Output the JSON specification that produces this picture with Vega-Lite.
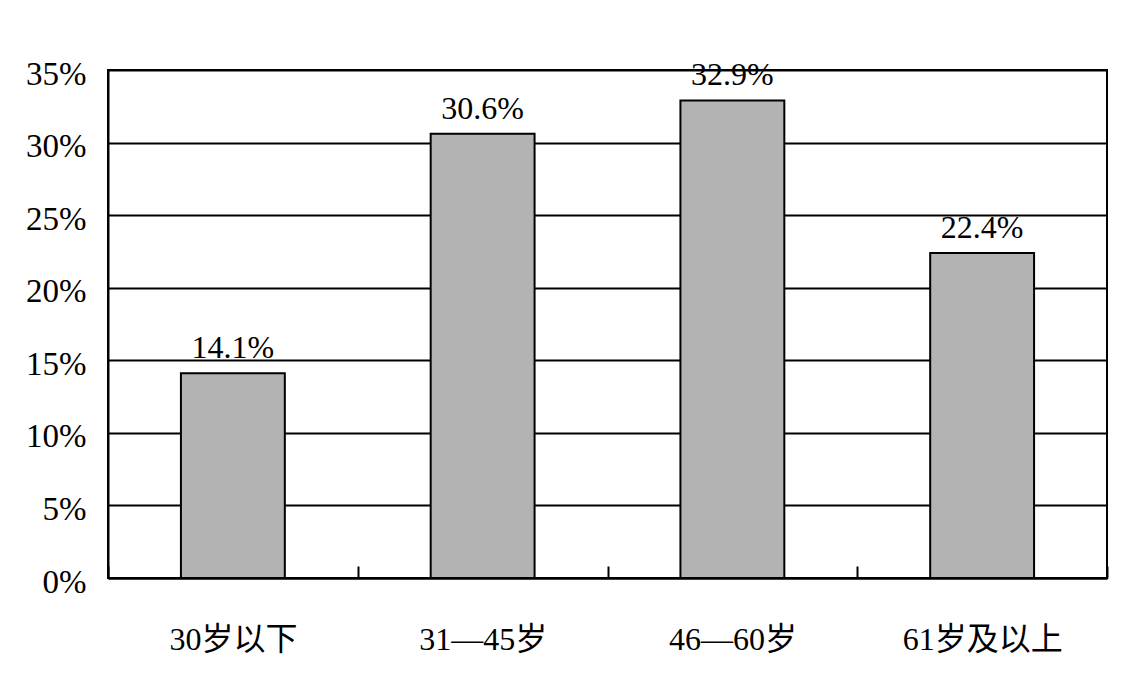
{
  "$schema": "https://vega.github.io/schema/vega-lite/v6.json",
  "width": 999,
  "height": 508,
  "autosize": {"type": "none"},
  "padding": {"left": 108, "top": 70, "right": 26, "bottom": 99},
  "background": "white",
  "data": {
    "values": [
      {"group": "30岁以下", "share": 0.141},
      {"group": "31—45岁", "share": 0.306},
      {"group": "46—60岁", "share": 0.329},
      {"group": "61岁及以上", "share": 0.224}
    ]
  },
  "encoding": {
    "x": {
      "field": "group",
      "type": "nominal",
      "sort": null,
      "scale": {"paddingInner": 0, "paddingOuter": 0},
      "axis": {
        "title": null,
        "labelAngle": 0,
        "labelFont": "Liberation Serif, Noto Sans CJK SC",
        "labelFontSize": 32,
        "labelColor": "#000",
        "labelPadding": 58,
        "tickBand": "extent",
        "tickSize": -12,
        "tickColor": "#000",
        "tickWidth": 2,
        "domainColor": "#000",
        "domainWidth": 2,
        "grid": false
      }
    },
    "y": {
      "field": "share",
      "type": "quantitative",
      "scale": {"domain": [0, 0.35]},
      "axis": {
        "title": null,
        "values": [0, 0.05, 0.1, 0.15, 0.2, 0.25, 0.3, 0.35],
        "format": ".0%",
        "labelFont": "Liberation Serif",
        "labelFontSize": 33,
        "labelColor": "#000",
        "labelPadding": 22,
        "labelOffset": 4,
        "ticks": false,
        "grid": true,
        "gridColor": "#000",
        "gridWidth": 2,
        "gridOpacity": 1,
        "domainColor": "#000",
        "domainWidth": 2
      }
    }
  },
  "layer": [
    {
      "mark": {"type": "bar", "fill": "#b3b3b3", "stroke": "#000", "strokeWidth": 2, "width": {"band": 0.416}}
    },
    {
      "mark": {
        "type": "text",
        "font": "Liberation Serif",
        "fontSize": 32,
        "color": "#000",
        "baseline": "alphabetic",
        "dy": -15
      },
      "encoding": {
        "text": {"field": "share", "type": "quantitative", "format": ".1%"}
      }
    }
  ],
  "config": {
    "view": {"stroke": "#000", "strokeWidth": 2}
  }
}
